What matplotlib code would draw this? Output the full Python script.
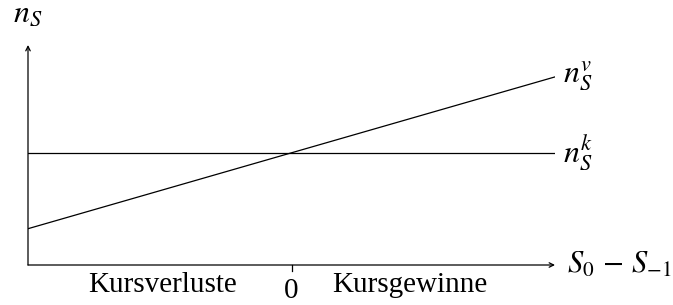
import matplotlib
matplotlib.use("Agg")
import matplotlib.pyplot as plt

plt.rcParams['font.family'] = ['Liberation Serif', 'DejaVu Serif']
plt.rcParams['mathtext.fontset'] = 'stix'

# data
x_ends = [-1.0, 1.0]
n_k = [0.51, 0.51]
n_v = [0.165, 0.855]
side_labels = ["Kursverluste", "Kursgewinne"]
side_pos = [-0.49, 0.45]

W, H = 673, 305
fig = plt.figure(figsize=(W / 100, H / 100), dpi=100)
ax = fig.add_axes([28 / W, 40 / H, (555 - 28) / W, (260 - 40) / H])
ax.set_xlim(-1, 1)
ax.set_ylim(0, 1)
ax.axis('off')

lw = 0.9
ax.plot(x_ends, n_k, color='black', lw=lw)
ax.plot(x_ends, n_v, color='black', lw=lw)

# axes with arrows
ax.annotate('', xy=(1.0, 0), xytext=(-1.0, 0),
            arrowprops=dict(arrowstyle='->', lw=lw, color='black', shrinkA=0, shrinkB=0,
                            mutation_scale=8), annotation_clip=False)
ax.annotate('', xy=(-1.0, 1.0), xytext=(-1.0, 0),
            arrowprops=dict(arrowstyle='->', lw=lw, color='black', shrinkA=0, shrinkB=0,
                            mutation_scale=8), annotation_clip=False)
# tick at zero
ax.plot([0, 0], [0, -0.027], color='black', lw=lw, clip_on=False)

fs = 21
ax.text(0, -0.06, '0', ha='center', va='top', fontsize=fs)
for lab, p in zip(side_labels, side_pos):
    ax.text(p, -0.032, lab, ha='center', va='top', fontsize=fs)

ax.text(1.045, 0.0, r'$S_0\,-\,S_{-1}$', ha='left', va='center', fontsize=fs + 1)
ax.text(1.03, n_k[1], r'$n_S^k$', ha='left', va='center', fontsize=fs + 2)
ax.text(1.03, n_v[1], r'$n_S^v$', ha='left', va='center', fontsize=fs + 2)
ax.text(-1.0, 1.14, r'$n_S$', ha='center', va='center', fontsize=fs + 2)

fig.savefig('out.png', dpi=100)
